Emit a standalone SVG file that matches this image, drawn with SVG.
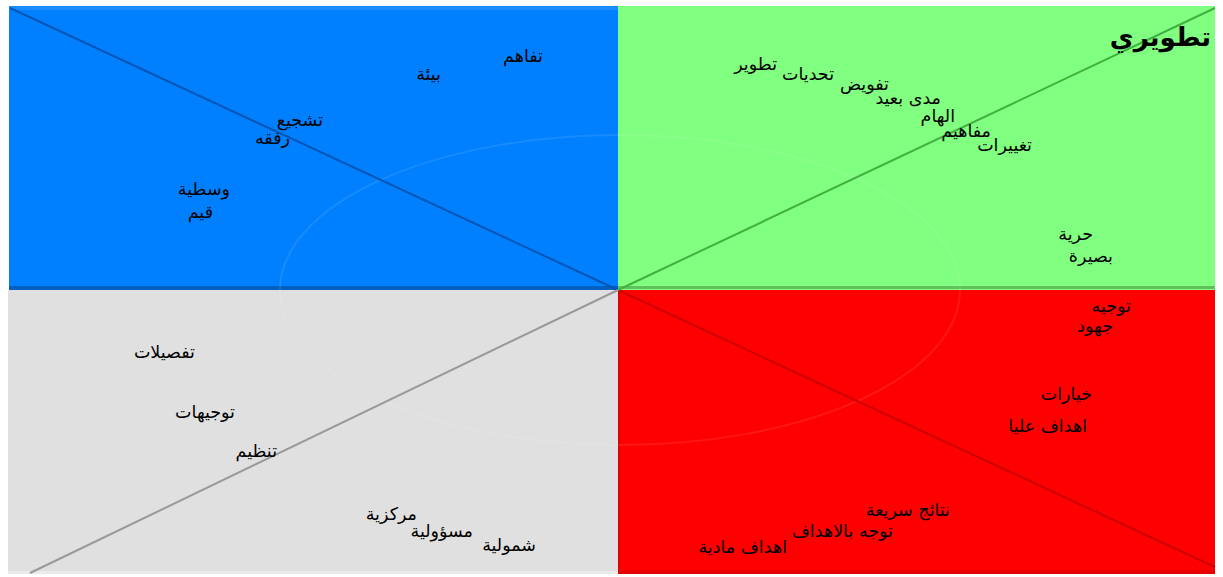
<svg xmlns="http://www.w3.org/2000/svg" width="1223" height="577" viewBox="0 0 1223 577">
<style>
text{font-family:"DejaVu Sans","Liberation Sans",sans-serif;font-size:17.5px;fill:#000;text-anchor:end}
.t{font-size:26px;font-weight:bold}
.arc{fill:none;stroke:#ffffff;stroke-opacity:0.09;stroke-width:2}
</style>
<rect x="0" y="0" width="1223" height="577" fill="#ffffff"/>
<g id="q-blue">
<rect x="9" y="6" width="609" height="284" fill="#0080ff"/>
<rect x="9" y="6" width="609" height="4" fill="#1a8cff"/>
<rect x="9" y="286" width="609" height="4" fill="#0060c0"/>
</g>
<g id="q-green">
<rect x="618" y="6" width="597" height="284" fill="#80ff80"/>
<rect x="618" y="286" width="597" height="3" fill="#60c060"/>
</g>
<g id="q-gray">
<rect x="8" y="290" width="610" height="284" fill="#e0e0e0"/>
<rect x="8" y="571" width="610" height="3" fill="#eaeaea"/>
</g>
<g id="q-red">
<rect x="618" y="290" width="597" height="284" fill="#ff0000"/>
<rect x="618" y="290" width="2" height="284" fill="#e00000"/>
<rect x="618" y="570" width="597" height="4" fill="#e80000"/>
</g>
<g id="arcs">
<ellipse class="arc" cx="620" cy="290" rx="340" ry="155"/>
</g>
<g id="connectors">
<line x1="10" y1="8" x2="618" y2="290" stroke="#0055b5" stroke-width="2"/>
<line x1="618" y1="290" x2="1215" y2="567" stroke="#cc0000" stroke-width="2"/>
<line x1="30" y1="573" x2="618" y2="290" stroke="#999999" stroke-width="2"/>
<line x1="618" y1="290" x2="1215" y2="8" stroke="#40b040" stroke-width="2"/>
</g>
<g id="labels-blue">
<text x="543" y="62">تفاهم</text>
<text x="441" y="80">بيئة</text>
<text x="323" y="126">تشجيع</text>
<text x="290" y="144">رفقه</text>
<text x="230" y="195">وسطية</text>
<text x="213" y="218">قيم</text>
</g>
<g id="labels-green">
<text class="t" x="1211" y="46">تطويري</text>
<text x="777" y="70">تطوير</text>
<text x="834" y="80">تحديات</text>
<text x="889" y="90">تفويض</text>
<text x="941" y="104">مدى بعيد</text>
<text x="955" y="122">الهام</text>
<text x="991" y="137">مفاهيم</text>
<text x="1032" y="151">تغييرات</text>
<text x="1093" y="240">حرية</text>
<text x="1113" y="262">بصيرة</text>
</g>
<g id="labels-gray">
<text x="195" y="358">تفصيلات</text>
<text x="235" y="418">توجيهات</text>
<text x="277" y="457">تنظيم</text>
<text x="417" y="520">مركزية</text>
<text x="473" y="537">مسؤولية</text>
<text x="536" y="551">شمولية</text>
</g>
<g id="labels-red">
<text x="1131" y="312">توجيه</text>
<text x="1113" y="332">جهود</text>
<text x="1092" y="400">خيارات</text>
<text x="1087" y="432">اهداف عليا</text>
<text x="950" y="516">نتائج سريعة</text>
<text x="893" y="537">توجه بالاهداف</text>
<text x="787" y="553">اهداف مادية</text>
</g>
</svg>
